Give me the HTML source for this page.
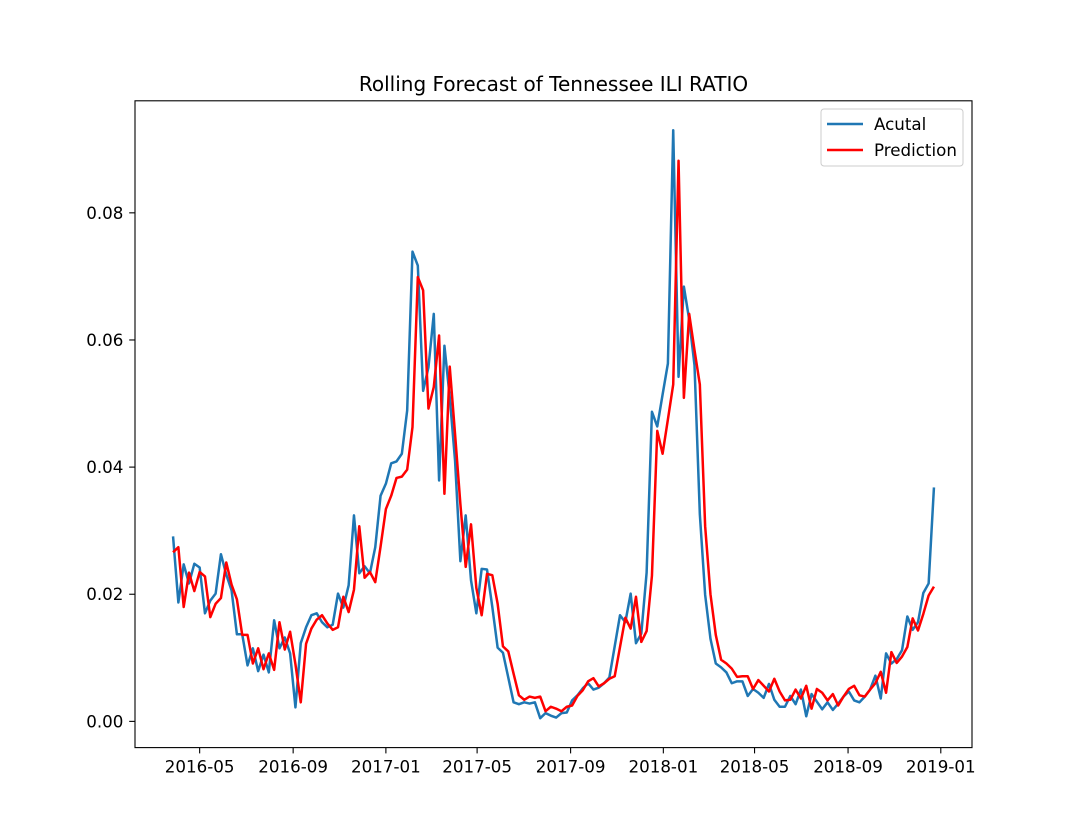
<!DOCTYPE html>
<html><head><meta charset="utf-8"><style>
html,body{margin:0;padding:0;background:#fff;}
svg{display:block;font-family:"DejaVu Sans","Liberation Sans",sans-serif;}
</style></head><body>
<svg id="chart" width="1080" height="840" viewBox="0 0 1080 840">
<rect x="0" y="0" width="1080" height="840" fill="#fff"/>
<text x="553.5" y="91" text-anchor="middle" font-size="20" fill="#000">Rolling Forecast of Tennessee ILI RATIO</text>
<g id="plot"></g>
<g id="xticks"></g>
<g id="yticks"></g>
<rect x="135" y="100.8" width="837" height="646.8" fill="none" stroke="#000" stroke-width="1.1"/>
<g>
<rect x="821" y="109" width="142" height="57" rx="3" fill="#fff" fill-opacity="0.8" stroke="#ccc" stroke-width="1"/>
<line x1="827" y1="124" x2="863" y2="124" stroke="#1f77b4" stroke-width="2.5"/>
<text x="874" y="130" font-size="16.7">Acutal</text>
<line x1="827" y1="150" x2="863" y2="150" stroke="#ff0000" stroke-width="2.5"/>
<text x="874" y="156" font-size="16.7">Prediction</text>
</g>
</svg>
<script>
const startDate = "2016-03-27";
const actual = [0.0291,0.0187,0.0247,0.0217,0.0248,0.0242,0.017,0.019,0.0201,0.0263,0.0231,0.0206,0.0137,0.0137,0.0088,0.0115,0.0079,0.0105,0.0077,0.0159,0.0115,0.0132,0.0107,0.0022,0.0123,0.0148,0.0167,0.017,0.0156,0.0148,0.0152,0.0201,0.0179,0.0214,0.0324,0.0233,0.0244,0.0233,0.0274,0.0355,
0.0374,0.0406,0.0409,0.0421,0.0489,0.0739,0.0717,0.052,0.0557,0.0641,0.0379,0.0591,0.051,0.041,0.0252,0.0324,0.0222,0.017,0.024,0.0239,0.018,0.0116,0.0108,0.0069,0.003,0.0027,0.003,0.0028,0.003,0.0005,
0.0013,0.0009,0.0006,0.0013,0.0014,0.0033,0.0041,0.0052,0.006,0.005,0.0053,0.006,0.0069,0.0118,0.0167,0.0156,0.0201,0.0123,0.0138,
0.0234,0.0487,0.0464,0.0514,0.0563,0.093,0.0542,0.0684,0.0632,0.056,0.0326,0.0199,0.013,0.0091,0.0085,0.0077,0.006,0.0063,0.0063,0.004,
0.0051,0.0045,0.0037,0.0059,0.0034,0.0023,0.0023,0.004,0.0027,0.005,0.0008,0.0043,0.0031,0.0019,0.003,0.0018,0.0028,0.0039,0.0047,0.0033,0.003,0.0039,0.005,0.0072,0.0036,0.0107,0.0091,0.0098,0.0112,0.0165,0.0144,0.0156,0.0202,0.0217,0.0368];
const prediction = [0.0266,0.0274,0.018,0.0234,0.0205,0.0235,0.0228,0.0164,0.0185,0.0194,0.025,0.0215,0.0192,0.0136,0.0136,0.0091,0.0115,0.0082,0.0107,0.0081,0.0156,0.0113,0.0141,0.009,0.003,0.0122,0.0146,0.016,0.0167,0.0154,0.0144,0.0148,0.0196,0.0172,0.0207,0.0307,0.0226,0.0235,0.0219,0.0275,
0.0334,0.0355,0.0383,0.0385,0.0396,0.0463,0.0699,0.0678,0.0492,0.0526,0.0607,0.0358,0.0558,0.0452,0.0342,0.0243,0.031,0.021,0.0167,0.0232,0.023,0.0185,0.0118,0.011,0.0075,0.0041,0.0034,0.0039,0.0037,0.0039,
0.0016,0.0023,0.002,0.0016,0.0023,0.0025,0.004,0.0049,0.0063,0.0068,0.0055,0.006,0.0067,0.0071,0.0117,0.0163,0.0146,0.0196,0.0125,
0.0142,0.0229,0.0457,0.0421,0.0475,0.053,0.0882,0.0509,0.0641,0.0584,0.053,0.0307,0.02,0.0136,0.0097,0.0091,0.0083,0.007,0.0071,0.0071,
0.0051,0.0065,0.0056,0.0047,0.0067,0.0047,0.0033,0.0034,0.005,0.0036,0.0056,0.002,0.0051,0.0045,0.0033,0.0043,0.0025,0.0039,0.0051,0.0056,0.0041,0.0039,0.005,0.006,0.0078,0.0045,0.0109,0.0092,0.0102,0.0117,0.0162,0.0143,0.0169,0.0198,0.0212];
const xTickLabels = ["2016-05","2016-09","2017-01","2017-05","2017-09","2018-01","2018-05","2018-09","2019-01"];
const yTickValues = [0,0.02,0.04,0.06,0.08];
const yTickLabels = ["0.00","0.02","0.04","0.06","0.08"];

const NS = "http://www.w3.org/2000/svg";
const AX = {l:135, r:972, t:100.8, b:747.6};
const DAY = 86400000;
const t0 = Date.parse(startDate + "T00:00:00Z");
const n = Math.max(actual.length, prediction.length);
const dates = Array.from({length:n}, (_, i) => t0 + i*7*DAY);
const dMin = dates[0], dMax = dates[n-1];
const dPad = (dMax - dMin) * 0.05;
const all = actual.concat(prediction);
const vMin = Math.min(...all), vMax = Math.max(...all);
const vPad = (vMax - vMin) * 0.05;
function xScale(t){ return AX.l + (t - (dMin - dPad)) / ((dMax + dPad) - (dMin - dPad)) * (AX.r - AX.l); }
function yScale(v){ return AX.b - (v - (vMin - vPad)) / ((vMax + vPad) - (vMin - vPad)) * (AX.b - AX.t); }

const plot = document.getElementById('plot');
function series(vals, color, name){
  const pts = vals.map((v,i) => xScale(dates[i]).toFixed(2) + "," + yScale(v).toFixed(2)).join(" ");
  const pl = document.createElementNS(NS, 'polyline');
  pl.setAttribute('points', pts);
  pl.setAttribute('fill', 'none');
  pl.setAttribute('stroke', color);
  pl.setAttribute('stroke-width', '2.5');
  pl.setAttribute('stroke-linejoin', 'round');
  
  
  plot.appendChild(pl);
}
series(actual, '#1f77b4', 'actual-line');
series(prediction, '#ff0000', 'prediction-line');

const xg = document.getElementById('xticks');
xTickLabels.forEach(lbl => {
  const t = Date.parse(lbl + "-01T00:00:00Z");
  const x = xScale(t);
  const ln = document.createElementNS(NS, 'line');
  ln.setAttribute('x1', x); ln.setAttribute('x2', x);
  ln.setAttribute('y1', AX.b); ln.setAttribute('y2', AX.b + 5.8);
  ln.setAttribute('stroke', '#000'); ln.setAttribute('stroke-width', '1.1');
  
  
  xg.appendChild(ln);
  const tx = document.createElementNS(NS, 'text');
  tx.setAttribute('x', x); tx.setAttribute('y', AX.b + 25);
  tx.setAttribute('text-anchor', 'middle'); tx.setAttribute('font-size', '16.7');
  tx.textContent = lbl;
  
  
  xg.appendChild(tx);
});

const yg = document.getElementById('yticks');
yTickValues.forEach((v, i) => {
  const y = yScale(v);
  const ln = document.createElementNS(NS, 'line');
  ln.setAttribute('x1', AX.l - 5.8); ln.setAttribute('x2', AX.l);
  ln.setAttribute('y1', y); ln.setAttribute('y2', y);
  ln.setAttribute('stroke', '#000'); ln.setAttribute('stroke-width', '1.1');
  
  
  yg.appendChild(ln);
  const tx = document.createElementNS(NS, 'text');
  tx.setAttribute('x', AX.l - 11.6); tx.setAttribute('y', y + 6);
  tx.setAttribute('text-anchor', 'end'); tx.setAttribute('font-size', '16.7');
  tx.textContent = yTickLabels[i];
  
  
  yg.appendChild(tx);
});
</script>
</body></html>
